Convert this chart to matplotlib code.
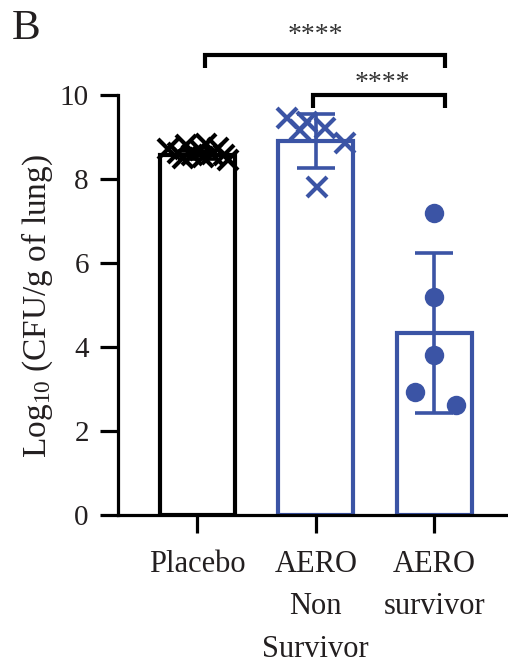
import matplotlib
matplotlib.use("Agg")
import matplotlib.pyplot as plt
import numpy as np

plt.rcParams['font.family'] = ['Liberation Serif', 'DejaVu Serif']
plt.rcParams['mathtext.fontset'] = 'custom'
plt.rcParams['mathtext.rm'] = 'Liberation Serif'
plt.rcParams['mathtext.it'] = 'Liberation Serif:italic'

# ---- data ----
categories = ['Placebo', 'AERO\nNon\nSurvivor', 'AERO\nsurvivor']
means = [8.57, 8.90, 4.33]
sds = [0.10, 0.64, 1.90]

placebo_vals = [8.72, 8.62, 8.82, 8.58, 8.70, 8.84, 8.60, 8.74, 8.56, 8.46, 8.50, 8.52]
nonsurv_vals = [9.45, 9.36, 9.17, 9.21, 8.86, 7.81]
surv_vals = [7.19, 5.19, 3.81, 2.93, 2.62]

# horizontal scatter of the points within each bar
placebo_jit = [-0.245, -0.16, -0.093, -0.042, 0.025, 0.076, 0.127, 0.177, 0.228, 0.262, -0.118, 0.05]
nonsurv_jit = [-0.245, -0.076, -0.135, 0.076, 0.245, 0.01]
surv_jit = [0.0, 0.0, 0.0, -0.16, 0.18]

yticks = [0, 2, 4, 6, 8, 10]
ylabel = r'Log$_{10}$ (CFU/g of lung)'
sig_labels = ['****', '****']

# ---- style ----
BLUE = '#3B54A5'
TXT = '#231f20'
colors = ['black', BLUE, BLUE]

fig = plt.figure(figsize=(5.08, 6.68), dpi=100)
ax = fig.add_axes([118/508, 1-515/668, 390/508, 420/668])
ax.set_xlim(-0.667, 2.62)
ax.set_ylim(0, 10)

x = np.arange(len(categories))
ax.bar(x, means, width=0.63, facecolor='white', edgecolor=colors, linewidth=3, zorder=2)
for xi, m, s, c in zip(x, means, sds, colors):
    ax.errorbar(xi, m, yerr=s, fmt='none', ecolor=c, elinewidth=2.6,
                capsize=14, capthick=2.6, zorder=3)

ax.plot(x[0] + np.array(placebo_jit), placebo_vals, linestyle='none', marker='x',
        markersize=14, markeredgewidth=3, color='black', zorder=4, clip_on=False)
ax.plot(x[1] + np.array(nonsurv_jit), nonsurv_vals, linestyle='none', marker='x',
        markersize=14, markeredgewidth=3, color=BLUE, zorder=4, clip_on=False)
ax.plot(x[2] + np.array(surv_jit), surv_vals, linestyle='none', marker='o',
        markersize=14, markeredgewidth=0, color=BLUE, zorder=4, clip_on=False)

# significance brackets
def bracket(x0, x1, ytop, ylow, label, tx, ty):
    ax.plot([x0, x0, x1, x1], [ylow, ytop, ytop, ylow], color='black', lw=3,
            clip_on=False, solid_joinstyle='miter', solid_capstyle='butt', zorder=5)
    ax.text(tx, ty, label, ha='center', va='baseline', fontsize=20, color='#333333')

bracket(x[0] + 0.07, x[2] + 0.09, 10.95, 10.64, sig_labels[0], 1.0, 11.27)
bracket(x[1] - 0.02, x[2] + 0.09, 10.0, 9.69, sig_labels[1], 1.56, 10.13)

# axes styling
for side in ['top', 'right']:
    ax.spines[side].set_visible(False)
for side in ['left', 'bottom']:
    ax.spines[side].set_linewidth(2.3)
    ax.spines[side].set_zorder(6)
ax.set_yticks(yticks)
ax.set_xticks(x)
ax.set_xticklabels(categories, linespacing=1.62, va='top', fontsize=22)
ax.tick_params(axis='both', length=13, width=2.3, colors='black', labelsize=21,
               labelcolor=TXT)
ax.tick_params(axis='x', pad=12, labelsize=22)
ax.tick_params(axis='y', pad=8)

fig.text(37/508, 1-306/668, ylabel, rotation=90, ha='center', va='center',
         fontsize=24, color=TXT)
fig.text(12/508, 1-39/668, 'B', fontsize=31, color=TXT, va='baseline')

fig.savefig('out.png', dpi=100)
